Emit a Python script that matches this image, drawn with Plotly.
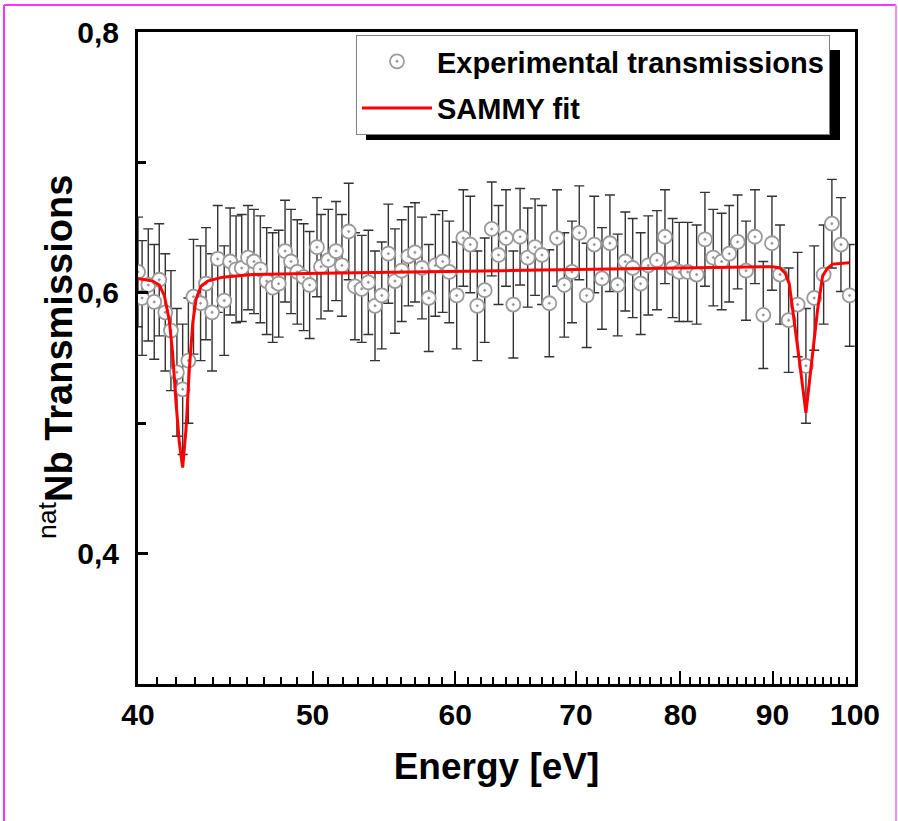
import plotly.graph_objects as go

# Experimental points (energy in eV, transmission, uncertainty)
energy = [40.00, 40.21, 40.53, 40.84, 41.10, 41.42, 41.72, 42.04, 42.35, 42.66,
          42.94, 43.33, 43.63, 43.97, 44.29, 44.66, 45.00, 45.34, 45.67, 46.04,
          46.39, 46.77, 47.15, 47.51, 47.88, 48.27, 48.64, 49.03, 49.43, 49.81,
          50.28, 50.54, 51.01, 51.52, 51.91, 52.36, 52.78, 53.24, 53.69, 54.15,
          54.62, 55.08, 55.55, 56.03, 56.51, 56.99, 57.50, 58.00, 58.49, 59.04,
          59.54, 60.11, 60.62, 61.16, 61.71, 62.30, 62.86, 63.41, 64.02, 64.62,
          65.18, 65.82, 66.44, 67.03, 67.66, 68.33, 68.97, 69.65, 70.30, 70.97,
          71.66, 72.37, 73.11, 73.84, 74.56, 75.27, 76.04, 76.78, 77.64, 78.44,
          79.21, 79.88, 80.75, 81.68, 82.55, 83.43, 84.33, 85.15, 86.07, 87.00,
          88.00, 88.94, 89.93, 90.86, 91.87, 92.93, 93.92, 94.92, 96.07, 97.09,
          98.22, 99.32]
transmission = [0.616, 0.596, 0.606, 0.593, 0.610, 0.585, 0.571, 0.539, 0.526, 0.548,
                0.597, 0.592, 0.607, 0.585, 0.626, 0.594, 0.624, 0.618, 0.619, 0.627,
                0.624, 0.618, 0.609, 0.604, 0.607, 0.632, 0.624, 0.616, 0.612, 0.606,
                0.635, 0.620, 0.625, 0.632, 0.621, 0.647, 0.605, 0.603, 0.608, 0.590,
                0.598, 0.630, 0.609, 0.617, 0.628, 0.631, 0.619, 0.596, 0.621, 0.624,
                0.616, 0.598, 0.642, 0.637, 0.590, 0.602, 0.649, 0.629, 0.642, 0.591,
                0.643, 0.627, 0.635, 0.629, 0.592, 0.642, 0.606, 0.616, 0.646, 0.598,
                0.637, 0.611, 0.638, 0.606, 0.624, 0.619, 0.607, 0.621, 0.625, 0.643,
                0.619, 0.616, 0.616, 0.614, 0.641, 0.627, 0.624, 0.630, 0.639, 0.617,
                0.643, 0.583, 0.638, 0.614, 0.579, 0.591, 0.544, 0.596, 0.614, 0.653,
                0.637, 0.598]
uncertainty = [0.042, 0.044, 0.043, 0.044, 0.043, 0.045, 0.046, 0.049, 0.050, 0.048,
               0.044, 0.044, 0.043, 0.045, 0.041, 0.042, 0.041, 0.041, 0.041, 0.040,
               0.040, 0.041, 0.041, 0.042, 0.041, 0.039, 0.040, 0.040, 0.041, 0.041,
               0.038, 0.040, 0.039, 0.038, 0.039, 0.037, 0.041, 0.041, 0.040, 0.042,
               0.041, 0.038, 0.040, 0.039, 0.038, 0.038, 0.039, 0.041, 0.039, 0.039,
               0.039, 0.041, 0.037, 0.037, 0.042, 0.040, 0.036, 0.038, 0.037, 0.041,
               0.037, 0.038, 0.037, 0.038, 0.041, 0.037, 0.040, 0.039, 0.036, 0.040,
               0.037, 0.039, 0.037, 0.039, 0.038, 0.038, 0.039, 0.038, 0.038, 0.036,
               0.038, 0.038, 0.038, 0.038, 0.036, 0.037, 0.037, 0.037, 0.036, 0.038,
               0.036, 0.041, 0.036, 0.038, 0.040, 0.040, 0.044, 0.040, 0.038, 0.034,
               0.036, 0.039]

# SAMMY fit curve
fit_energy = [40.00, 40.76, 41.10, 41.37, 41.63, 41.81, 41.99, 42.17, 42.35, 42.53,
              42.71, 42.90, 43.08, 43.35, 43.73, 44.57, 46.31, 50.54, 63.61, 80.06,
              90.01, 90.86, 91.47, 91.94, 92.53, 93.12, 93.92, 94.73, 95.33, 95.95,
              96.56, 97.18, 99.27]
fit_transmission = [0.611, 0.609, 0.606, 0.598, 0.579, 0.554, 0.516, 0.485, 0.466, 0.495,
                    0.541, 0.577, 0.595, 0.605, 0.609, 0.612, 0.614, 0.615, 0.617, 0.619,
                    0.620, 0.619, 0.615, 0.607, 0.579, 0.549, 0.508, 0.556, 0.587, 0.613,
                    0.619, 0.622, 0.623]

x_tickvals = [40, 50, 60, 70, 80, 90, 100]
x_ticktext = ["40", "50", "60", "70", "80", "90", "100"]
x_minorvals = [v for v in range(41, 100) if v % 10 != 0]
y_tickvals = [0.4, 0.6, 0.8]
y_ticktext = ["0,4", "0,6", "0,8"]
y_minorvals = [0.5, 0.7]

FONT = "Liberation Sans, Arial, sans-serif"

fig = go.Figure()
fig.add_trace(go.Scatter(
    x=energy, y=transmission, mode="markers", name="Experimental transmissions",
    legendgroup="exp",
    marker=dict(symbol="circle-dot", size=14, color="white",
                line=dict(color="#9a9a9a", width=1.8)),
    error_y=dict(type="data", array=uncertainty, visible=True,
                 color="#333333", thickness=1.4, width=5),
))
fig.add_trace(go.Scatter(
    x=fit_energy, y=fit_transmission, mode="lines", name="SAMMY fit",
    legendgroup="fit",
    line=dict(color="#ff0000", width=3),
))

W, H = 898, 821
L, R, T, B = 138, 43, 32, 137
pw, ph = W - L - R, H - T - B

def px(xp):
    return (xp - L) / pw

def py(yp):
    return (H - B - yp) / ph

shapes = [
    # legend shadow
    dict(type="rect", xref="paper", yref="paper", layer="above",
         x0=px(366), x1=px(840), y0=py(140), y1=py(50),
         fillcolor="black", line=dict(width=0)),
    # magenta frame (left, top, right)
    dict(type="line", xref="paper", yref="paper", x0=px(4), x1=px(4), y0=py(5), y1=py(821),
         line=dict(color="#ff33ff", width=2)),
    dict(type="line", xref="paper", yref="paper", x0=px(4), x1=px(896), y0=py(5), y1=py(5),
         line=dict(color="#ff33ff", width=2)),
    dict(type="line", xref="paper", yref="paper", x0=px(896), x1=px(896), y0=py(5), y1=py(821),
         line=dict(color="#ff88ff", width=2)),
]

annotations = [
    dict(text="<sup>nat</sup><b>Nb Transmissions</b>", textangle=-90,
         xref="paper", yref="paper", x=px(56), y=py(357),
         xanchor="center", yanchor="middle", showarrow=False,
         font=dict(family=FONT, size=38, color="black")),
]

fig.update_layout(
    width=W, height=H,
    margin=dict(l=L, r=R, t=T, b=B, autoexpand=False),
    paper_bgcolor="white", plot_bgcolor="white",
    font=dict(family=FONT, color="black"),
    showlegend=True,
    legend=dict(x=px(356), y=py(35), xanchor="left", yanchor="top",
                bgcolor="white", bordercolor="#808080", borderwidth=1,
                font=dict(family=FONT, size=29, weight="bold", color="black"),
                itemwidth=70, tracegroupgap=6),
    shapes=shapes,
    annotations=annotations,
    xaxis=dict(
        type="log", range=[1.60206, 2.0],
        tickmode="array", tickvals=x_tickvals, ticktext=x_ticktext,
        ticks="inside", ticklen=13, tickwidth=2, tickcolor="black",
        minor=dict(tickmode="array", tickvals=x_minorvals, ticks="inside",
                   ticklen=7, tickwidth=2, tickcolor="black"),
        showline=True, linewidth=3, linecolor="black", mirror=True,
        showgrid=False, zeroline=False,
        tickfont=dict(family=FONT, size=30, weight="bold"),
        ticklabelstandoff=2,
        title=dict(text="Energy [eV]", font=dict(family=FONT, size=37, weight="bold"),
                   standoff=24),
    ),
    yaxis=dict(
        range=[0.3, 0.8],
        tickmode="array", tickvals=y_tickvals, ticktext=y_ticktext,
        ticks="inside", ticklen=10, tickwidth=3, tickcolor="black",
        minor=dict(tickmode="array", tickvals=y_minorvals, ticks="inside",
                   ticklen=8, tickwidth=3, tickcolor="black"),
        showline=True, linewidth=3, linecolor="black", mirror=True,
        showgrid=False, zeroline=False,
        tickfont=dict(family=FONT, size=30, weight="bold"),
        ticklabelstandoff=10,
    ),
)

fig.write_html("out.html", config={"displayModeBar": False},
               post_script="document.body.style.margin='0px';")
